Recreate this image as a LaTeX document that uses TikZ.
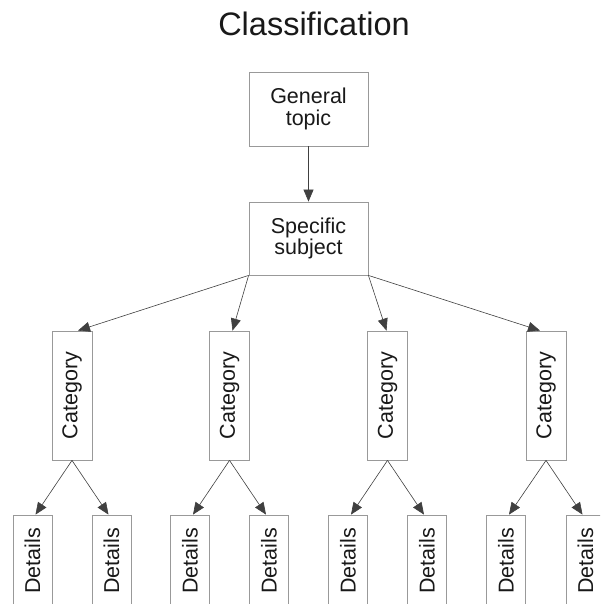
\documentclass[tikz,border=0pt]{standalone}
\usepackage{fontspec}
\setmainfont{Liberation Sans}
\usetikzlibrary{arrows.meta}

\tikzset{
  box/.style={draw=gray!80, line width=0.8pt, fill=white, inner sep=0pt, align=center, font=\fontsize{21.5}{21.5}\selectfont, text=black!90},
  catbox/.style={box, minimum width=40pt, minimum height=129pt},
  detbox/.style={box, minimum width=39pt, minimum height=92pt},
  link/.style={-{Triangle[length=12pt,width=10pt]}, draw=black!75, line width=0.6pt}
}

\begin{document}
\begin{tikzpicture}[x=1pt, y=-1pt]
		\clip (0,0) rectangle (600,604);
		\fill[white] (0,0) rectangle (600,604);

		\node[font=\fontsize{32.5}{34}\selectfont, anchor=base, text=black!90] (title) at (314,36) {Classification};

		\node[box, minimum width=119pt, minimum height=74pt] (general) at (308.5,109) {General\\topic};
		\node[box, minimum width=119pt, minimum height=73pt] (subject) at (308.5,238.5) {Specific\\subject};

		\draw[link] (general) -- (subject);

		% categories
		\node[catbox] (cat1) at (72,395.5) {\rotatebox{90}{Category}};
		\node[catbox] (cat2) at (229.5,395.5) {\rotatebox{90}{Category}};
		\node[catbox] (cat3) at (387.5,395.5) {\rotatebox{90}{Category}};
		\node[catbox] (cat4) at (546,395.5) {\rotatebox{90}{Category}};

		\draw[link] (subject.south west) -- ([xshift=6pt]cat1.north);
		\draw[link] (subject.south west) -- ([xshift=3pt]cat2.north);
		\draw[link] (subject.south east) -- ([xshift=-1pt]cat3.north);
		\draw[link] (subject.south east) -- ([xshift=-6pt]cat4.north);

		% details
		\node[detbox] (det1) at (32.5,561) {\rotatebox{90}{Details}};
		\node[detbox] (det2) at (111.5,561) {\rotatebox{90}{Details}};
		\node[detbox] (det3) at (190,561) {\rotatebox{90}{Details}};
		\node[detbox] (det4) at (269,561) {\rotatebox{90}{Details}};
		\node[detbox] (det5) at (348,561) {\rotatebox{90}{Details}};
		\node[detbox] (det6) at (427,561) {\rotatebox{90}{Details}};
		\node[detbox] (det7) at (506,561) {\rotatebox{90}{Details}};
		\node[detbox] (det8) at (585.5,561) {\rotatebox{90}{Details}};

		\draw[link] (cat1.south) -- ([xshift=3pt]det1.north);
		\draw[link] (cat1.south) -- ([xshift=-3pt]det2.north);
		\draw[link] (cat2.south) -- ([xshift=3pt]det3.north);
		\draw[link] (cat2.south) -- ([xshift=-3pt]det4.north);
		\draw[link] (cat3.south) -- ([xshift=3pt]det5.north);
		\draw[link] (cat3.south) -- ([xshift=-3pt]det6.north);
		\draw[link] (cat4.south) -- ([xshift=3pt]det7.north);
		\draw[link] (cat4.south) -- ([xshift=-3pt]det8.north);
	\end{tikzpicture}
\end{document}
